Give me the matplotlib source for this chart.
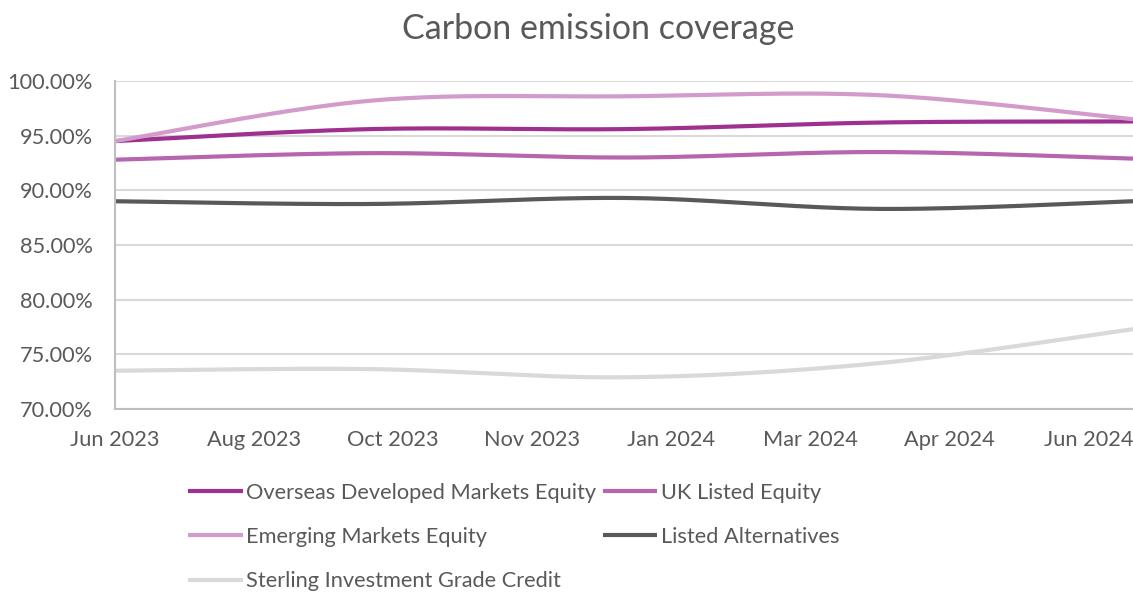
import matplotlib
matplotlib.use("Agg")
import matplotlib.pyplot as plt
import matplotlib.dates as mdates
from matplotlib.ticker import FuncFormatter
import numpy as np
import datetime as dt

plt.rcParams['font.family'] = ['Lato', 'DejaVu Sans']

# quarter-end data points
dates = [dt.date(2023, 6, 30), dt.date(2023, 9, 30), dt.date(2023, 12, 31),
         dt.date(2024, 3, 31), dt.date(2024, 6, 30)]

overseas = [94.5, 95.6, 95.6, 96.2, 96.3]
uk_listed = [92.8, 93.4, 93.0, 93.5, 92.9]
emerging = [94.5, 98.2, 98.6, 98.7, 96.5]
listed_alt = [89.0, 88.75, 89.3, 88.3, 89.0]
sterling = [73.5, 73.65, 72.9, 74.2, 77.3]

series = [
    ("Overseas Developed Markets Equity", overseas, "#A0308F"),
    ("UK Listed Equity", uk_listed, "#B865B0"),
    ("Emerging Markets Equity", emerging, "#D39BCB"),
    ("Listed Alternatives", listed_alt, "#595959"),
    ("Sterling Investment Grade Credit", sterling, "#D9D9D9"),
]


def smooth(x, y, n=40):
    # Excel-style smoothed line: Catmull-Rom bezier through the points
    x = np.asarray(x, float)
    y = np.asarray(y, float)
    xs, ys = [], []
    for i in range(len(x) - 1):
        x0, y0 = (x[i - 1], y[i - 1]) if i > 0 else (x[i], y[i])
        x3, y3 = (x[i + 2], y[i + 2]) if i + 2 < len(x) else (x[i + 1], y[i + 1])
        p0 = np.array([x[i], y[i]])
        p3 = np.array([x[i + 1], y[i + 1]])
        p1 = p0 + (p3 - np.array([x0, y0])) / 6
        p2 = p3 - (np.array([x3, y3]) - p0) / 6
        t = np.linspace(0, 1, n)[:, None]
        pts = ((1 - t) ** 3) * p0 + 3 * ((1 - t) ** 2) * t * p1 + 3 * (1 - t) * t ** 2 * p2 + t ** 3 * p3
        xs.extend(pts[:, 0])
        ys.extend(pts[:, 1])
    return np.array(xs), np.array(ys)


start = mdates.date2num(dates[0])
xnum = [mdates.date2num(d) for d in dates]

fig = plt.figure(figsize=(11.33, 5.95), dpi=100)
ax = fig.add_axes([0.1015, 0.3126, 0.8985, 0.5513])

handles = {}
for name, vals, col in series:
    sx, sy = smooth(xnum, vals)
    ln, = ax.plot(sx, sy, color=col, lw=3, solid_capstyle='butt', label=name)
    handles[name] = ln

ax.set_ylim(70, 100)
ax.set_xlim(xnum[0], xnum[-1])
ax.set_yticks(np.arange(70, 100.1, 5))
ax.yaxis.set_major_formatter(FuncFormatter(lambda v, p: f"{v:.2f}%"))
ax.set_xticks([start + 50 * k for k in range(8)])
ax.xaxis.set_major_formatter(mdates.DateFormatter('%b %Y'))

ax.grid(axis='y', color='#D9D9D9', lw=1.5)
ax.set_axisbelow(True)
for s in ['top', 'right']:
    ax.spines[s].set_visible(False)
ax.spines['left'].set_color('#BFBFBF')
ax.spines['left'].set_linewidth(1.5)
ax.spines['bottom'].set_color('#BFBFBF')
ax.spines['bottom'].set_linewidth(1.5)
ax.tick_params(axis='both', length=0, labelsize=15.7, colors='#595959')
ax.tick_params(axis='y', pad=16)
ax.tick_params(axis='x', pad=15)

fig.text(0.528, 0.952, "Carbon emission coverage", ha='center', va='center',
         fontsize=24.5, color='#595959')

order = ["Overseas Developed Markets Equity", "Emerging Markets Equity",
         "Sterling Investment Grade Credit", "UK Listed Equity", "Listed Alternatives"]
leg = fig.legend([handles[k] for k in order], order, loc='upper left',
                 bbox_to_anchor=(0.149, 0.222), ncol=2, frameon=False,
                 fontsize=15.7, handlelength=2.5, handletextpad=0.15,
                 columnspacing=0.3, labelspacing=1.12)
for t in leg.get_texts():
    t.set_color('#595959')

fig.savefig("out.png", dpi=100)
